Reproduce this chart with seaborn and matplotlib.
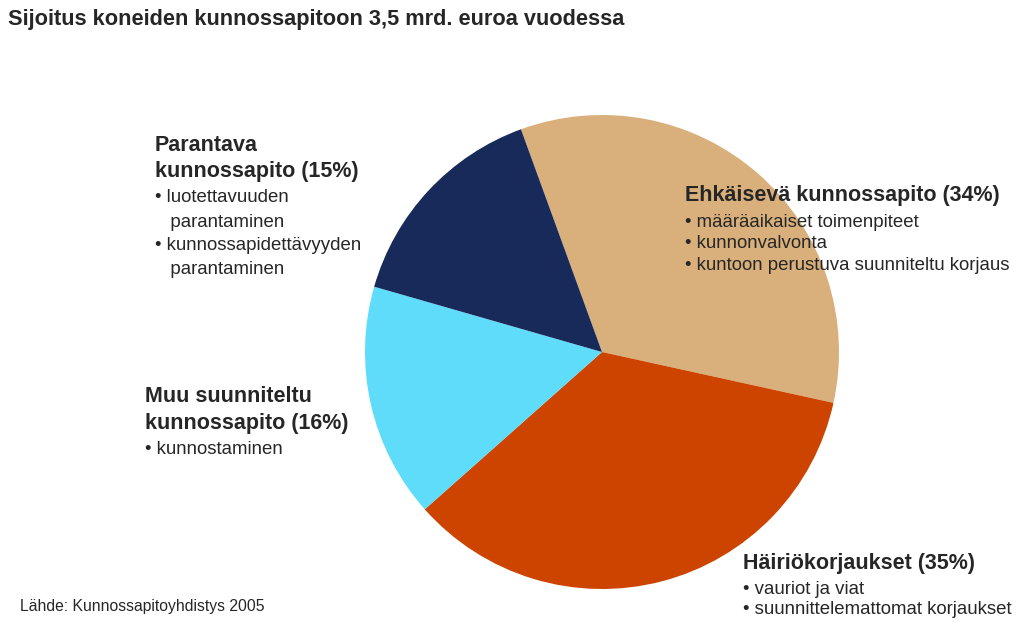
import matplotlib
matplotlib.use("Agg")
import matplotlib.pyplot as plt
import seaborn as sns

sns.set_theme(style="white")
plt.rcParams['font.family'] = ['Liberation Sans', 'DejaVu Sans']

labels = ["Ehkäisevä kunnossapito", "Häiriökorjaukset", "Muu suunniteltu kunnossapito", "Parantava kunnossapito"]
shares = [34, 35, 16, 15]
colors = ["#D9B07B", "#CC4400", "#5EDCFA", "#172A5A"]

fig = plt.figure(figsize=(10.24, 6.24), dpi=100)
fig.patch.set_facecolor("white")

# pie placed by pixel box: centre (602, 352), radius ~237
r = 237
ax = fig.add_axes([(602 - r) / 1024, (624 - 352 - r) / 624, 2 * r / 1024, 2 * r / 624])
ax.pie(shares, colors=colors, startangle=110, counterclock=False,
       wedgeprops=dict(linewidth=0))
ax.set_xlim(-1, 1)
ax.set_ylim(-1, 1)
ax.set_aspect("equal")
ax.axis("off")

def px(x, y):
    return x / 1024, 1 - y / 624

fig.text(*px(8, 20), "Sijoitus koneiden kunnossapitoon 3,5 mrd. euroa vuodessa",
         fontsize=15.7, fontweight="bold", va="center", ha="left")

# x, y of first heading centre, heading lines, item lines, item spacing
blocks = [
    (155, 145, ["Parantava", "kunnossapito (15%)"],
     ["• luotettavuuden", "   parantaminen", "• kunnossapidettävyyden", "   parantaminen"], 24),
    (685, 196, ["Ehkäisevä kunnossapito (34%)"],
     ["• määräaikaiset toimenpiteet", "• kunnonvalvonta", "• kuntoon perustuva suunniteltu korjaus"], 22),
    (145, 397, ["Muu suunniteltu", "kunnossapito (16%)"], ["• kunnostaminen"], 24),
    (743, 563, ["Häiriökorjaukset (35%)"], ["• vauriot ja viat", "• suunnittelemattomat korjaukset"], 21),
]
for x, y, heads, items, step in blocks:
    yy = y
    for h in heads:
        fig.text(*px(x, yy), h, fontsize=15.5, fontweight="bold", va="center", ha="left")
        yy += 27
    yy -= 1
    for it in items:
        fig.text(*px(x, yy), it, fontsize=13.4, va="center", ha="left")
        yy += step

fig.text(*px(20, 606), "Lähde: Kunnossapitoyhdistys 2005", fontsize=11.3, va="center", ha="left")

fig.savefig("out.png", dpi=100)
